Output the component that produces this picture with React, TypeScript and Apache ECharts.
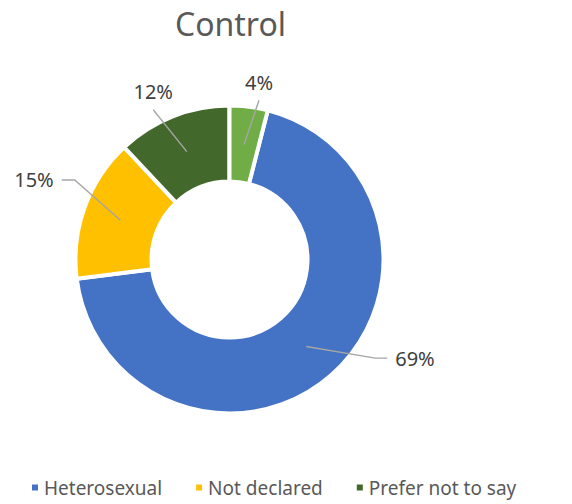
import React, { useEffect, useRef } from 'react';
import * as echarts from 'echarts';

const title = 'Control';
const categories = ['Heterosexual', 'Not declared', 'Prefer not to say', 'Other'];
const values = [69, 15, 12, 4];
const legendItems = ['Heterosexual', 'Not declared', 'Prefer not to say'];

const COLORS = ['#4472C4', '#FFC000', '#43682B', '#70AD47'];
const FONT = 'Noto Sans';
const W = 572;
const H = 504;
const CX = 229.5;
const CY = 259.5;
const R_OUT = 152;
const R_IN = 80;
const GAP = 4;
const START_ANGLE = 75.6;
// leader-line guides per slice: knee radius, turn (deg), horizontal tail, label side
const GUIDES = [
  { r: 176, turn: 14.5, tail: 12, place: 'right' },
  { r: 174, turn: -7.4, tail: 13, place: 'left' },
  { r: 168, turn: 5.4, tail: 0, place: 'top' },
  { r: 162, turn: -3.3, tail: 0, place: 'top' },
];

const total = values.reduce((a, b) => a + b, 0);
const midAngles = values.map((v, i) => {
  const before = values.slice(0, i).reduce((a, b) => a + b, 0);
  return START_ANGLE - ((before + v / 2) / total) * 360;
});

const polar = (r: number, deg: number) => {
  const a = (deg * Math.PI) / 180;
  return [CX + r * Math.cos(a), CY - r * Math.sin(a)];
};

const pieData = categories.map((name, i) => ({ name, value: values[i] }));

export default function App() {
  const ref = useRef<HTMLDivElement>(null);
  useEffect(() => {
    if (!ref.current) return;
    const chart = echarts.init(ref.current, null, { renderer: 'svg' });
    const common = {
      type: 'pie',
      center: [CX, CY],
      radius: [R_IN - GAP / 2, R_OUT + GAP / 2],
      startAngle: START_ANGLE,
      clockwise: true,
      silent: true,
      emphasis: { disabled: true },
      data: pieData,
    };
    chart.setOption({
      animation: false,
      color: COLORS,
      title: {
        text: title,
        left: CX - 4,
        textAlign: 'center',
        top: 2,
        textStyle: { fontFamily: FONT, fontSize: 32, fontWeight: 'normal', color: '#595959' },
      },
      legend: {
        data: legendItems,
        left: 30,
        top: 478,
        padding: 0,
        itemWidth: 8,
        itemHeight: 8,
        itemGap: 32,
        icon: 'rect',
        textStyle: { fontFamily: FONT, fontSize: 19, color: '#595959' },
      },
      series: [
        {
          ...common,
          z: 2,
          itemStyle: { borderColor: '#ffffff', borderWidth: GAP },
          label: { show: false },
          labelLine: { show: false },
        },
        {
          ...common,
          z: 5,
          itemStyle: { color: 'rgba(0,0,0,0)', borderWidth: 0 },
          label: {
            show: true,
            position: 'outside',
            formatter: '{c}%',
            overflow: 'none',
            fontFamily: FONT,
            fontSize: 20,
            color: '#404040',
          },
          labelLine: {
            show: true,
            showAbove: true,
            lineStyle: { color: '#A6A6A6', width: 1.4 },
          },
          labelLayout: (params: any) => {
            const i = params.dataIndex;
            const g = GUIDES[i];
            const mid = midAngles[i];
            const start = polar((R_OUT + R_IN) / 2, mid);
            const knee = polar(g.r, mid + g.turn);
            const sign = g.place === 'left' ? -1 : 1;
            const end = [knee[0] + sign * g.tail, knee[1]];
            let x = end[0];
            let y = end[1];
            let align = 'center';
            let verticalAlign = 'middle';
            if (g.place === 'right') {
              x = end[0] + 8;
              align = 'left';
            } else if (g.place === 'left') {
              x = end[0] - 8;
              align = 'right';
            } else {
              y = end[1] - 8;
              verticalAlign = 'bottom';
            }
            return { x, y, align, verticalAlign, labelLinePoints: [start, knee, end] };
          },
        },
      ],
    });
    return () => chart.dispose();
  }, []);
  return (
    <div
      ref={ref}
      style={{ position: 'absolute', left: 0, top: 0, width: W, height: H, background: '#fff' }}
    />
  );
}
